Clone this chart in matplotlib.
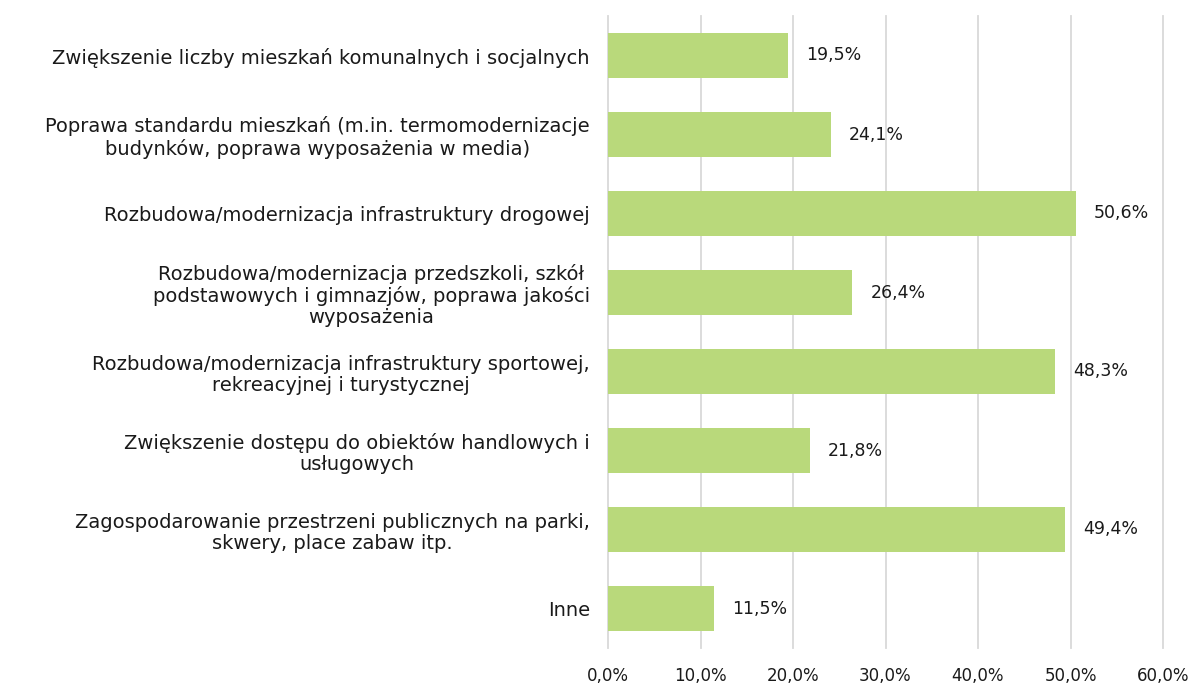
import matplotlib.pyplot as plt
from matplotlib.ticker import FuncFormatter

categories = [
    'Zwiększenie liczby mieszkań komunalnych i socjalnych',
    'Poprawa standardu mieszkań (m.in. termomodernizacje\nbudynków, poprawa wyposażenia w media)',
    'Rozbudowa/modernizacja infrastruktury drogowej',
    'Rozbudowa/modernizacja przedszkoli, szkół\npodstawowych i gimnazjów, poprawa jakości\nwyposażenia',
    'Rozbudowa/modernizacja infrastruktury sportowej,\nrekreacyjnej i turystycznej',
    'Zwiększenie dostępu do obiektów handlowych i\nusługowych',
    'Zagospodarowanie przestrzeni publicznych na parki,\nskwery, place zabaw itp.',
    'Inne',
]
values = [19.5, 24.1, 50.6, 26.4, 48.3, 21.8, 49.4, 11.5]
x_ticks = [0, 10, 20, 30, 40, 50, 60]

plt.rcParams['font.family'] = ['DejaVu Sans']


def pl_pct(v, pos=None):
    return f'{v:.1f}%'.replace('.', ',')


fig = plt.figure(figsize=(11.92, 6.88), dpi=100)
ax = fig.add_axes([608 / 1192, 1 - 648 / 688, 555 / 1192, 632 / 688])

ypos = range(len(categories))
rects = ax.barh(ypos, values, height=0.565, color='#b9d97b', zorder=2)
ax.bar_label(rects, labels=[pl_pct(v) for v in values], padding=13,
             fontsize=12.5, color='#1a1a1a')

ax.set_yticks(list(ypos))
ax.set_yticklabels(categories, fontsize=14, color='#1a1a1a',
                   multialignment='center', linespacing=1.15)
ax.set_ylim(len(categories) - 0.5, -0.5)

ax.set_xlim(0, 60)
ax.set_xticks(x_ticks)
ax.xaxis.set_major_formatter(FuncFormatter(pl_pct))
ax.tick_params(axis='x', labelsize=12, colors='#1a1a1a', length=0, pad=14)
ax.tick_params(axis='y', length=0, pad=13)
ax.grid(axis='x', color='#d9d9d9', linewidth=1.3, zorder=0)
for line in ax.get_xgridlines():
    line.set_clip_on(False)
for s in ax.spines.values():
    s.set_visible(False)

fig.savefig('out.png', dpi=100)
